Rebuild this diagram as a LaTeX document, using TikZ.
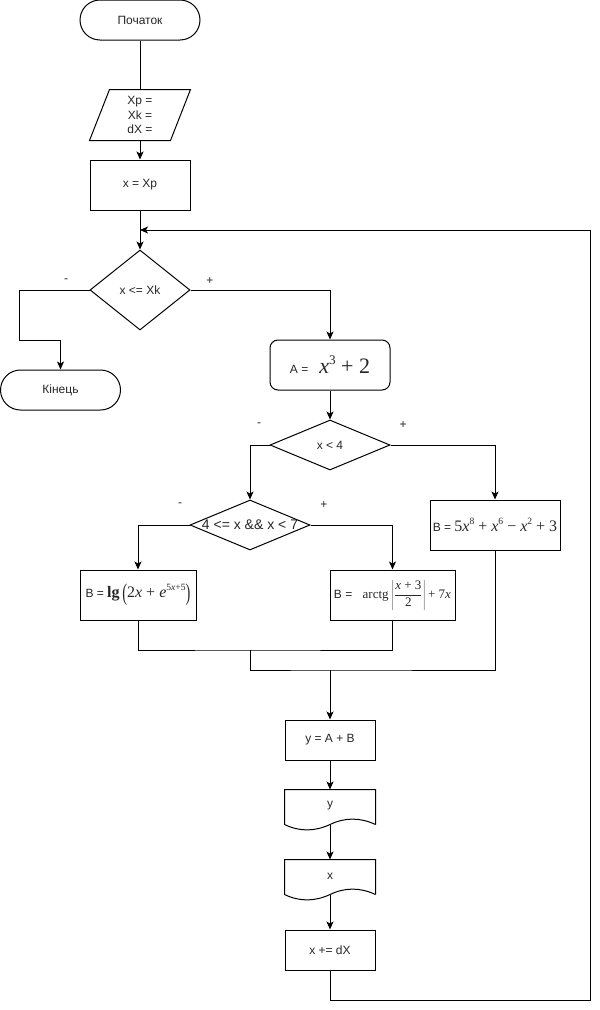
\documentclass[tikz,border=0pt]{standalone}
\usepackage{fontspec}
\setmainfont{Liberation Sans}
\newfontfamily\tms{Liberation Serif}
\usepackage{graphicx}
\usetikzlibrary{shapes.geometric,arrows.meta,calc}

% small raised superscript for hand-set formulas
\newcommand{\up}[1]{\raisebox{0.42em}{\scalebox{0.6}{#1}}}
% tall bracket
\newcommand{\bigp}[1]{\raisebox{-0.2em}{\scalebox{0.9}[1.5]{#1}}}

\begin{document}
\begin{tikzpicture}[x=1pt,y=-1pt,line width=1pt,
  every node/.style={font=\fontsize{12}{14.5}\selectfont,text=black!85,inner sep=0pt},
  term/.style={draw,rounded corners=20pt,minimum width=120pt,minimum height=40pt},
  procbox/.style={draw,rectangle},
  decision/.style={draw,diamond,inner sep=0pt},
  pm/.style={font=\fontsize{12}{12}\selectfont},
  arr/.style={-{Stealth[length=8pt,width=7pt,inset=2pt]}},
  sz/.style n args={2}{minimum width=#1pt,minimum height=#2pt}
]
\useasboundingbox (0,0) rectangle (600,1010);

% ---- nodes
\node[term] (start) at (140,20) {Початок};
\node[sz={100}{50},align=center] (inp) at (140,115) {Xp =\\Xk =\\dX =};
\draw ($(inp.north west)+(20,0)$) -- (inp.north east)
      -- ($(inp.south east)+(-20,0)$) -- (inp.south west) -- cycle;
\node[procbox,sz={100}{50}] (init) at (140,185) {x = Xp};
\node[decision,sz={100}{80}] (c1) at (140,290) {\makebox[0pt]{x <= Xk}};
\node[term] (fin) at (60.5,390) {Кінець};
\node[draw,rounded corners=8pt,sz={120}{50}] (ca) at (330,365)
  {A =\hspace{11pt}{\tms\fontsize{22}{22}\selectfont\textit{x}\up{3} + 2}};
\node[decision,sz={120}{50}] (c2) at (330,445) {\makebox[0pt]{x < 4}};
\node[decision,sz={120}{50}] (c3) at (250,525)
  {\makebox[0pt]{\fontsize{14}{16}\selectfont 4 <= x \&\& x < 7}};
\node[procbox,sz={130}{50}] (b3) at (495,525)
  {B = {\tms\fontsize{16}{16}\selectfont 5\textit{x}\up{8} + \textit{x}\up{6} − \textit{x}\up{2} + 3}};
\node[procbox,sz={116}{50}] (b1) at (138,595)
  {B = {\tms\fontsize{16}{16}\selectfont\textbf{lg}\,\bigp{(}2\textit{x} + \textit{e}\up{5\textit{x}+5}\bigp{)}}};
\node[procbox,sz={125}{50}] (b2) at (392.5,595)
  {B = \hspace{7pt}{\tms\fontsize{13}{13}\selectfont arctg\,$\displaystyle\left|\frac{\hbox{\tms\fontsize{13}{13}\selectfont\textit{x} + 3}}{\hbox{\tms\fontsize{13}{13}\selectfont 2}}\right|$\,+ 7\textit{x}}};
\node[procbox,sz={90}{40}] (yab) at (330,740) {y = A + B};
\node[sz={90}{40}] (outy) at (330,810) {\raisebox{4pt}[\height][\depth]{y}};
\node[sz={90}{40}] (outx) at (330,880) {\raisebox{4pt}[\height][\depth]{x}};
\node[procbox,sz={90}{40}] (inc) at (330,950) {x += dX};

% document shapes with a wavy lower edge
\foreach \d in {outy,outx}{
  \draw ($(\d.south east)+(0,-6)$) -- (\d.north east) -- (\d.north west)
     -- ($(\d.south west)+(0,-6)$)
     .. controls ($(\d.south west)+(15,1.2)$) and ($(\d.south west)+(30,1.2)$) .. ($(\d.south)+(0,-6)$)
     .. controls ($(\d.south)+(15,-13.2)$) and ($(\d.south)+(30,-13.2)$) .. ($(\d.south east)+(0,-6)$);
}

% branch signs
\node[pm] (m1) at (66,281) {-};
\node[pm] (p1) at (210,281) {+};
\node[pm] (m2) at (259,425) {-};
\node[pm] (p2) at (403,425) {+};
\node[pm] (m3) at (180,505) {-};
\node[pm] (p3) at (324,505) {+};

% ---- connectors
\coordinate (loop) at (140,230);
\coordinate (j1) at (250,650);
\coordinate (j2) at (330,670);
\coordinate (lb) at (590,1000);
\coordinate (lt) at (590,230);

\draw (start.south) -- (inp.north);
\draw[arr] (inp.south) -- (init.north);
\draw[arr] (init.south) -- (c1.north);
\draw[arr] (c1.west) -- ++(-70,0) -- ++(0,50) -| (fin.north);
\draw[arr] (c1.east) -| (ca.north);
\draw[arr] (ca.south) -- (c2.north);
\draw[arr] (c2.west) -| (c3.north);
\draw[arr] (c2.east) -| (b3.north);
\draw[arr] (c3.west) -| (b1.north);
\draw[arr] (c3.east) -| (b2.north);
\draw (b1.south) |- (j1) -| (b2.south);
\draw (j1) |- (j2) -| (b3.south);
\draw[arr] (j2) -- (yab.north);
\draw[arr] (yab.south) -- (outy.north);
\draw[arr] ($(outy.south)+(0,-6)$) -- (outx.north);
\draw[arr] ($(outx.south)+(0,-6)$) -- (inc.north);
\draw[arr] (inc.south) |- (lb) -- (lt) -- (loop);
\end{tikzpicture}
\end{document}
